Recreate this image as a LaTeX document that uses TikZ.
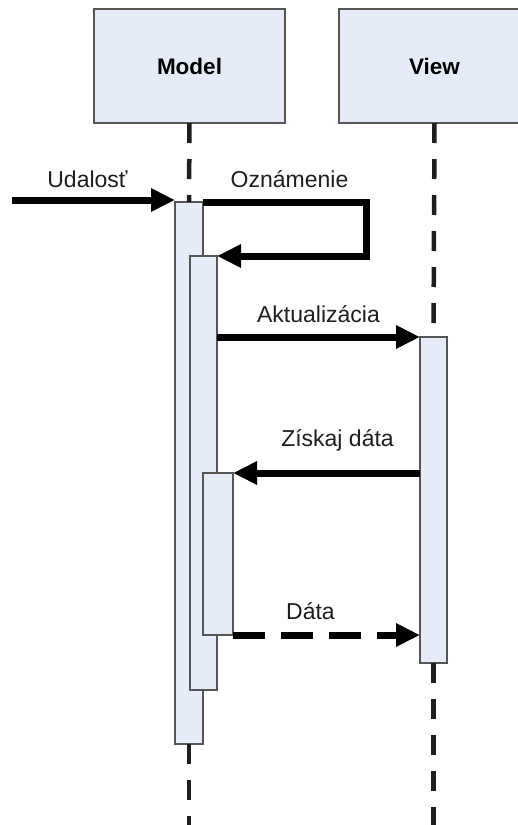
\documentclass[tikz,border=0pt]{standalone}
\usepackage{fontspec}
\setmainfont{Liberation Sans}
\usepackage{tikz}
\usetikzlibrary{arrows.meta,positioning,calc}

\definecolor{boxfill}{RGB}{230,236,247}
\definecolor{boxline}{RGB}{85,85,85}
\definecolor{inkgray}{RGB}{30,30,30}

\tikzset{
  objbox/.style={draw=boxline, line width=1.5pt, fill=boxfill, inner sep=0pt, outer sep=0pt,
                 minimum width=191pt, minimum height=114pt, font=\fontsize{22.5}{25}\selectfont\bfseries},
  actbox/.style={draw=boxline, line width=1.5pt, fill=boxfill, inner sep=0pt, outer sep=0pt},
  lifeline/.style={draw=inkgray, line width=4.5pt, dash pattern=on 20pt off 16pt},
  msg/.style={draw=black, line width=7pt, -{Triangle[length=24pt,width=22pt]}},
  reply/.style={msg, dash pattern=on 32pt off 16pt},
  msglabel/.style={anchor=base, text=inkgray, inner sep=0pt, font=\fontsize{23}{26}\selectfont}
}

\begin{document}
\begin{tikzpicture}[x=1pt,y=-1pt]
  \clip (0,0) rectangle (518,825);
  \useasboundingbox (0,0) rectangle (518,825);

  % objects
  \node[objbox] (model) at (189.5,66) {Model};
  \node[objbox] (view)  at (434.5,66) {View};

  \coordinate (modelend) at (189,825);
  \coordinate (viewend)  at (433.5,825);

  % activations
  \node[actbox, minimum width=28pt, minimum height=542pt] (act1) at (189,473) {};
  \node[actbox, minimum width=27pt, minimum height=434pt] (act2) at (203.5,473) {};
  \node[actbox, minimum width=30pt, minimum height=162pt] (act3) at (218,554) {};
  \node[actbox, minimum width=27pt, minimum height=326pt] (vact) at (433.5,500) {};

  % lifelines
  \draw[lifeline] (model.south) -- (act1.north);
  \draw[lifeline] (act1.south) -- (modelend);
  \draw[lifeline] (view.south) -- (vact.north);
  \draw[lifeline] (vact.south) -- (viewend);

  % incoming event
  \coordinate (src) at (12,200);
  \draw[msg] (src) -- (src -| act1.west);
  \node[msglabel] (l1) at (87.5,187) {Udalosť};

  % self call
  \coordinate (turn1) at (366,202);
  \coordinate (turn2) at (366,256);
  \draw[msg] (act1.north east) -- (turn1) -- (turn2) -- (act2.north east);
  \node[msglabel] (l2) at (289.5,187) {Oznámenie};

  % update
  \draw[msg] (act2.east |- vact.north) -- (vact.north west);
  \node[msglabel] (l3) at (318.5,322) {Aktualizácia};

  % get data
  \draw[msg] (vact.west |- act3.north) -- (act3.north east);
  \node[msglabel] (l4) at (337.5,446) {Získaj dáta};

  % data back
  \draw[reply] (act3.south east) -- (vact.west |- act3.south);
  \node[msglabel] (l5) at (310.5,619) {Dáta};
\end{tikzpicture}
\end{document}
